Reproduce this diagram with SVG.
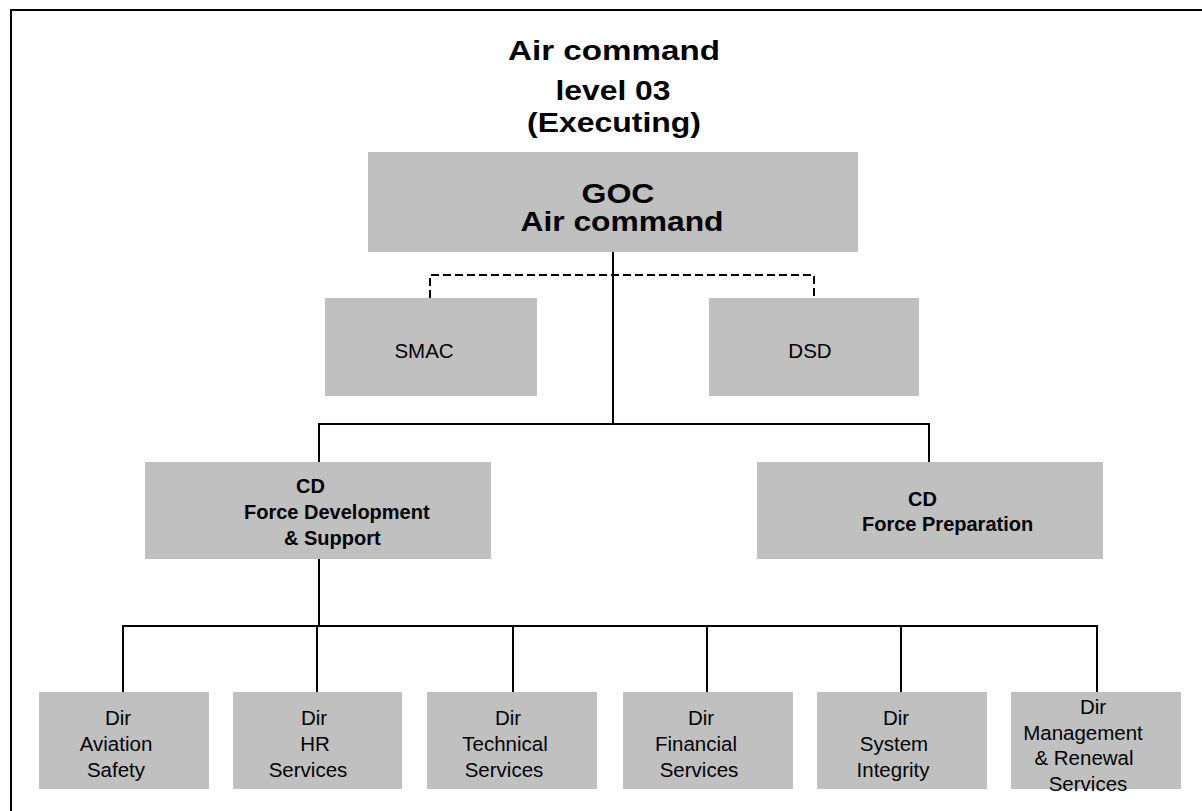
<svg xmlns="http://www.w3.org/2000/svg" width="1202" height="811" viewBox="0 0 1202 811">
  <style>
    .box { fill: #c0c0c0; }
    .ln { fill: none; stroke: #000; stroke-width: 2; }
    .dash { fill: none; stroke: #000; stroke-width: 2; stroke-dasharray: 8 4; }
    .title { font-family: "Liberation Sans", Arial, sans-serif; font-weight: bold; font-size: 28px; fill: #000; text-anchor: middle; }
    .bold { font-family: "Liberation Sans", Arial, sans-serif; font-weight: bold; font-size: 20px; fill: #000; }
    .reg { font-family: "Liberation Sans", Arial, sans-serif; font-size: 20.5px; fill: #000; text-anchor: middle; }
  </style>

  <rect width="1202" height="811" fill="#fff"/>
  <!-- page frame (runs off the right and bottom edges) -->
  <rect x="11" y="10" width="1210" height="820" class="ln"/>

  <g id="heading">
    <text class="title" x="614" y="60" textLength="212" lengthAdjust="spacingAndGlyphs">Air command</text>
    <text class="title" x="613" y="100" textLength="115" lengthAdjust="spacingAndGlyphs">level 03</text>
    <text class="title" x="614" y="132" textLength="174" lengthAdjust="spacingAndGlyphs">(Executing)</text>
  </g>

  <g id="connectors">
    <path class="dash" d="M430,298 V275 H814 V298"/>
    <path class="ln" d="M613,252 V424"/>
    <path class="ln" d="M319,462 V424 H929 V462"/>
    <path class="ln" d="M319,559 V626"/>
    <path class="ln" d="M123,692 V626 H1097 V692"/>
    <path class="ln" d="M317,626 V692 M513,626 V692 M707,626 V692 M901,626 V692"/>
  </g>

  <g id="goc">
    <rect class="box" x="368" y="152" width="490" height="100"/>
    <text class="title" x="618" y="203" textLength="73" lengthAdjust="spacingAndGlyphs">GOC</text>
    <text class="title" x="622" y="231" textLength="203" lengthAdjust="spacingAndGlyphs">Air command</text>
  </g>

  <g id="smac">
    <rect class="box" x="325" y="298" width="212" height="98"/>
    <text class="reg" x="424" y="358">SMAC</text>
  </g>

  <g id="dsd">
    <rect class="box" x="709" y="298" width="210" height="98"/>
    <text class="reg" x="810" y="358">DSD</text>
  </g>

  <g id="cd-force-development">
    <rect class="box" x="145" y="462" width="346" height="97"/>
    <text class="bold" x="296" y="493">CD</text>
    <text class="bold" x="244" y="519">Force Development</text>
    <text class="bold" x="284" y="545">&amp; Support</text>
  </g>

  <g id="cd-force-preparation">
    <rect class="box" x="757" y="462" width="346" height="97"/>
    <text class="bold" x="908" y="506">CD</text>
    <text class="bold" x="862" y="531">Force Preparation</text>
  </g>

  <g id="dir-aviation-safety">
    <rect class="box" x="39" y="692" width="170" height="97"/>
    <text class="reg" x="118" y="725">Dir</text>
    <text class="reg" x="116" y="751">Aviation</text>
    <text class="reg" x="116" y="777">Safety</text>
  </g>

  <g id="dir-hr-services">
    <rect class="box" x="233" y="692" width="169" height="97"/>
    <text class="reg" x="314" y="725">Dir</text>
    <text class="reg" x="315" y="751">HR</text>
    <text class="reg" x="308" y="777">Services</text>
  </g>

  <g id="dir-technical-services">
    <rect class="box" x="427" y="692" width="170" height="97"/>
    <text class="reg" x="508" y="725">Dir</text>
    <text class="reg" x="505" y="751">Technical</text>
    <text class="reg" x="504" y="777">Services</text>
  </g>

  <g id="dir-financial-services">
    <rect class="box" x="623" y="692" width="170" height="97"/>
    <text class="reg" x="701" y="725">Dir</text>
    <text class="reg" x="696" y="751">Financial</text>
    <text class="reg" x="699" y="777">Services</text>
  </g>

  <g id="dir-system-integrity">
    <rect class="box" x="817" y="692" width="170" height="97"/>
    <text class="reg" x="896" y="725">Dir</text>
    <text class="reg" x="894" y="751">System</text>
    <text class="reg" x="893" y="777">Integrity</text>
  </g>

  <g id="dir-management-renewal">
    <rect class="box" x="1011" y="692" width="170" height="97"/>
    <text class="reg" x="1093" y="714">Dir</text>
    <text class="reg" x="1083" y="740">Management</text>
    <text class="reg" x="1084" y="765">&amp; Renewal</text>
    <text class="reg" x="1088" y="791">Services</text>
  </g>
</svg>
